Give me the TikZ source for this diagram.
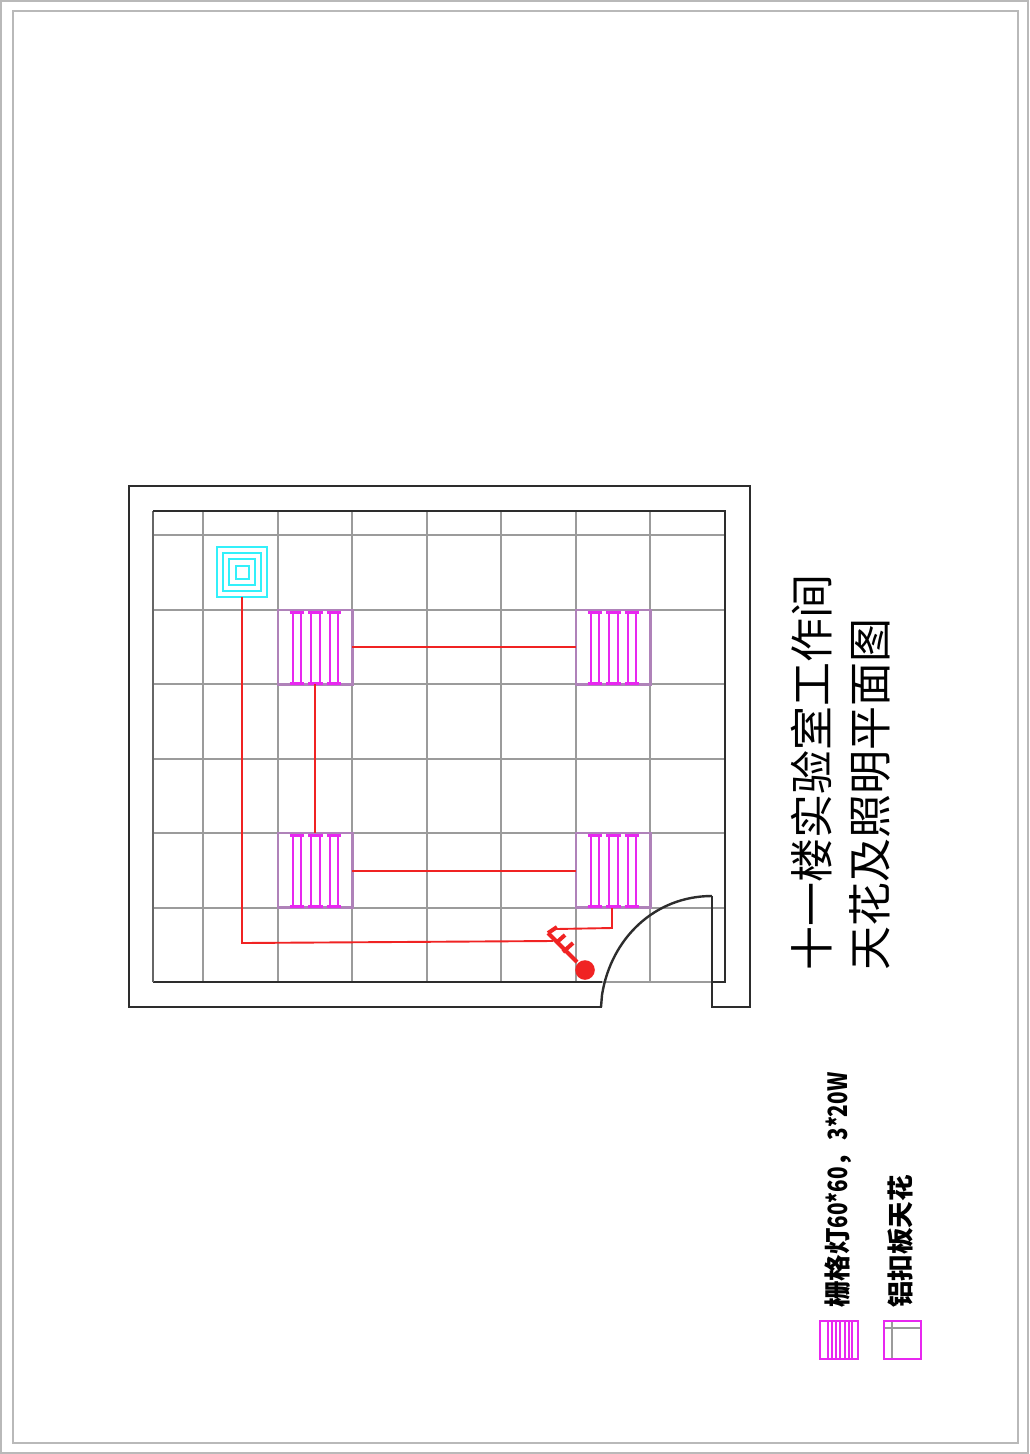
\documentclass[tikz,border=0pt]{standalone}
\usepackage{fontspec}
\setmainfont{Liberation Sans}
\newfontfamily\cjk{Noto Sans CJK SC}
\definecolor{cwall}{RGB}{45,45,45}
\definecolor{cgrid}{RGB}{155,155,155}
\definecolor{cred}{RGB}{240,35,35}
\definecolor{cmag}{RGB}{232,40,240}
\definecolor{cmix}{RGB}{175,130,185}
\definecolor{ccyan}{RGB}{50,240,250}
\definecolor{cframe}{RGB}{185,185,185}
\tikzset{
  wall/.style={draw=cwall,line width=2.4pt},
  gridline/.style={draw=cgrid,line width=2.2pt},
  wire/.style={draw=cred,line width=1.9pt},
  sw/.style={draw=cred,line width=4pt},
  lamp/.style={draw=cmag,line width=2pt},
  cyanl/.style={draw=ccyan,line width=2pt},
  frame/.style={draw=cframe,line width=1.1pt},
  titletext/.style={rotate=90,anchor=west,inner sep=0pt,font=\cjk\fontsize{44}{44}\selectfont,text=black},
  legendtext/.style={rotate=90,anchor=west,inner sep=0pt,font=\cjk\bfseries\fontsize{26.5}{27}\selectfont,text=black}
}
\newcommand{\lightfix}[2]{%
  \begin{scope}[shift={(#1,#2)}]
    \foreach \dx in {0,18.5,37}{
      \draw[lamp] (14.7+\dx,2) -- (14.7+\dx,73) (23+\dx,2) -- (23+\dx,73);
      \draw[lamp,line width=3pt] (11.5+\dx,2) -- (26+\dx,2) (11.5+\dx,73) -- (26+\dx,73);
    }
  \end{scope}}
\begin{document}
\begin{tikzpicture}[x=1pt,y=-1pt]
\useasboundingbox (0,0) rectangle (1029,1454);
\fill[white] (0,0) rectangle (1029,1454);
% page frames
\draw[frame] (1,1) rectangle (1028,1453);
\draw[frame] (13,11) rectangle (1018,1443);
% grid
\foreach \x in {203,278,352,427,501,576,650}{\draw[gridline] (\x,511) -- (\x,982);}
\foreach \y in {535,610,684,759,833,908}{\draw[gridline] (153,\y) -- (725,\y);}
\draw[gridline] (602,982) -- (712,982);
% lamp boxes
\foreach \px/\py in {278/610,278/833,576/610,576/833}{
  \draw[draw=cmix,line width=2.2pt] (\px,\py) rectangle (\px+74.5,\py+74.5);
  \lightfix{\px}{\py}
}
% walls
\draw[wall] (602,1007) -- (129,1007) -- (129,486) -- (750,486) -- (750,1007) -- (712,1007) -- (712,896);
\draw[wall] (602,982) -- (153,982);
\draw[draw=black!60,line width=2.4pt] (153,982) -- (153,511);
\draw[wall] (153,511) -- (725,511) -- (725,982) -- (712,982);
% door
\draw[wall] (601,1007) -- (602,995) .. controls (611,938) and (655,896) .. (712,896);
% cyan fixture
\foreach \r in {25,19,13,6.5}{\draw[cyanl] (242-\r,572-\r) rectangle (242+\r,572+\r);}
% wires
\draw[wire] (242,597) -- (242,943) -- (553,941);
\draw[wire] (352,647) -- (576,647);
\draw[wire] (352,871) -- (576,871);
\draw[wire] (315,684) -- (315,833);
\draw[wire] (612,908) -- (612,928) -- (556,929);
% switch
\fill[cred] (585,970) circle (9.8);
\draw[sw] (577,962) -- (548,933);
\draw[sw] (548,933) -- (557,927) (556,943) -- (565,935) (563,952) -- (573,943);
% title
\node[titletext] (t1) at (812,971) {十一楼实验室工作间};
\node[titletext] (t2) at (870,971) {天花及照明平面图};
% legend
\node[legendtext] (l1) at (838,1308) {栅格灯\scalebox{.78}[1]{60*60}，\scalebox{.78}[1]{3*20W}};
\node[legendtext] (l2) at (901,1308) {铝扣板天花};
\foreach \x in {828,832,836,840,845,849,852}{\draw[lamp,line width=1.4pt] (\x,1321) -- (\x,1359);}
\draw[lamp] (820,1321) rectangle (858,1359);
\draw[gridline,line width=1.8pt] (892,1321) -- (892,1359) (884,1328) -- (921,1328);
\draw[lamp] (884,1321) rectangle (921,1359);
\end{tikzpicture}
\end{document}
